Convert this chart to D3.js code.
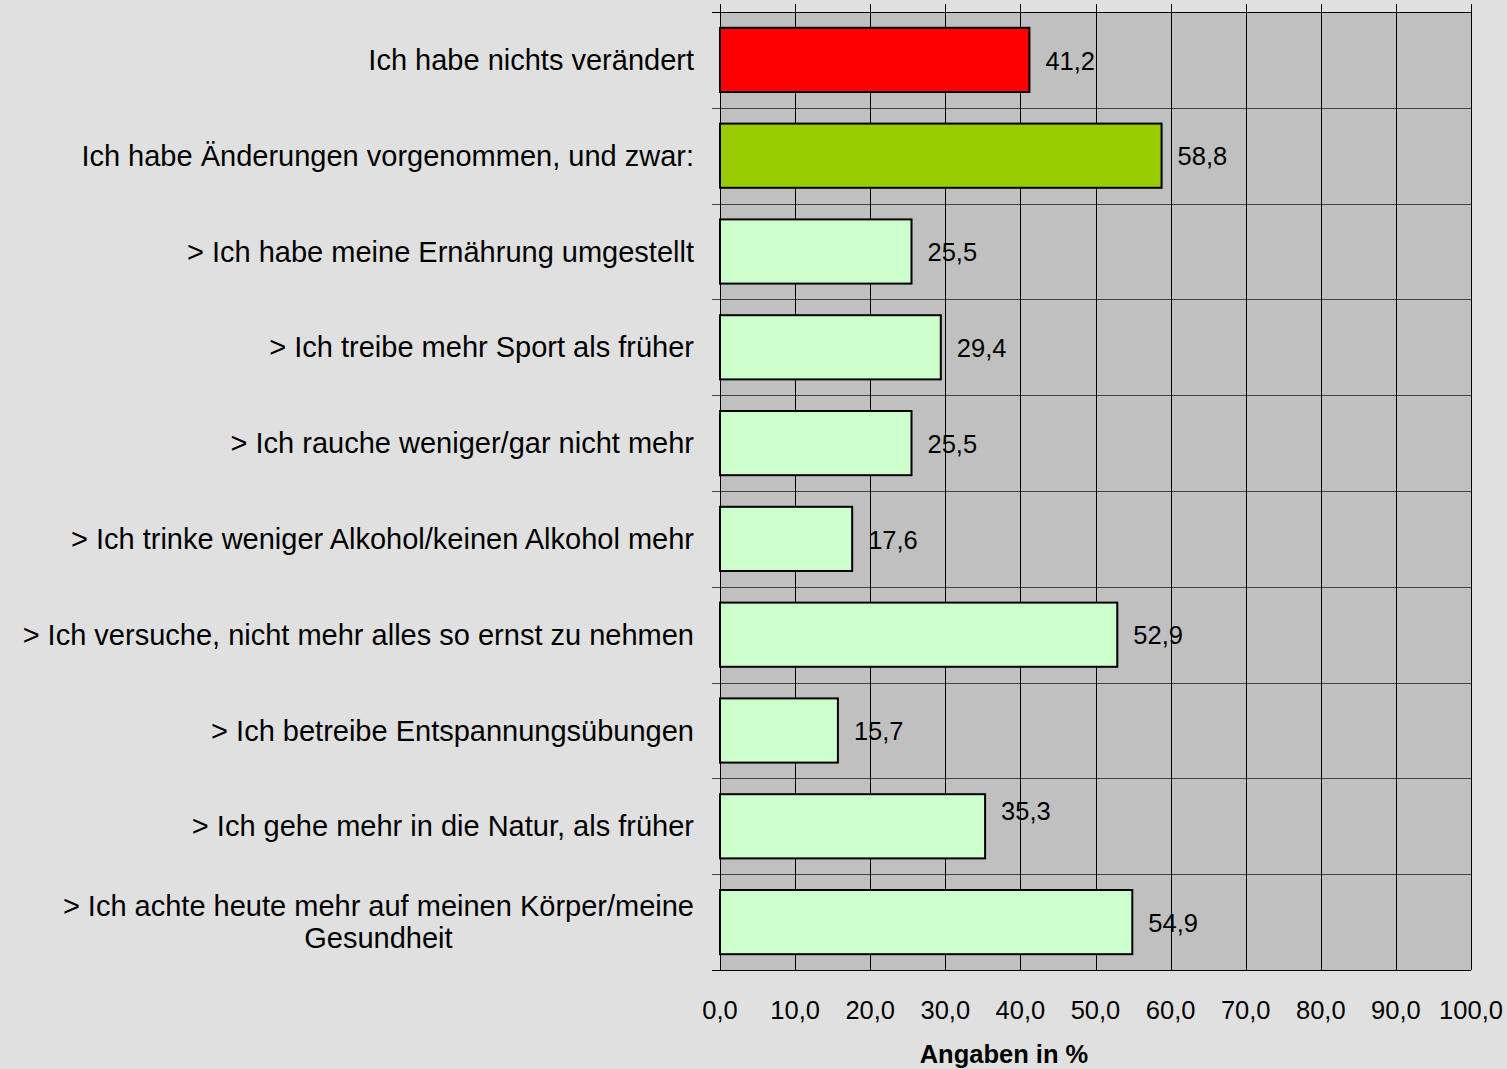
<!DOCTYPE html>
<html>
<head>
<meta charset="utf-8">
<title>Angaben in %</title>
<script src="https://cdnjs.cloudflare.com/ajax/libs/d3/7.8.5/d3.min.js"></script>
<style>
body { margin: 0; background: #e0e0e0; }
svg { display: block; font-family: "Liberation Sans", Arial, sans-serif; }
.cat { font-size: 29px; fill: #000; }
.val { font-size: 25.5px; fill: #000; }
.tick-label { font-size: 25.5px; fill: #000; }
</style>
</head>
<body>
<svg id="chart" width="1507" height="1069"></svg>
<script>
var categories = [
  ["Ich habe nichts verändert"],
  ["Ich habe Änderungen vorgenommen, und zwar:"],
  ["> Ich habe meine Ernährung umgestellt"],
  ["> Ich treibe mehr Sport als früher"],
  ["> Ich rauche weniger/gar nicht mehr"],
  ["> Ich trinke weniger Alkohol/keinen Alkohol mehr"],
  ["> Ich versuche, nicht mehr alles so ernst zu nehmen"],
  ["> Ich betreibe Entspannungsübungen"],
  ["> Ich gehe mehr in die Natur, als früher"],
  ["> Ich achte heute mehr auf meinen Körper/meine", "Gesundheit"]
];
var values = [41.2, 58.8, 25.5, 29.4, 25.5, 17.6, 52.9, 15.7, 35.3, 54.9];
var barColors = ["#ff0000", "#99cc00", "#ccffcc", "#ccffcc", "#ccffcc",
                 "#ccffcc", "#ccffcc", "#ccffcc", "#ccffcc", "#ccffcc"];
var xTicks = [0, 10, 20, 30, 40, 50, 60, 70, 80, 90, 100];
var axisTitle = "Angaben in %";

var svg = d3.select("#chart");
var plotLeft = 720, plotRight = 1471, plotTop = 12, plotBottom = 970;
var fmt = function(v) { return d3.format(".1f")(v).replace(".", ","); };

var x = d3.scaleLinear().domain([0, 100]).range([plotLeft, plotRight]);
var y = d3.scaleBand()
  .domain(d3.range(categories.length))
  .range([plotTop, plotBottom])
  .paddingInner(0.33)
  .paddingOuter(0.165);
var step = y.step();

// plot area
svg.append("rect")
  .attr("x", plotLeft).attr("y", plotTop)
  .attr("width", plotRight - plotLeft).attr("height", plotBottom - plotTop)
  .attr("fill", "#c0c0c0");

// horizontal band separators + y ticks
var seps = d3.range(categories.length + 1).map(i => plotTop + i * step);
svg.selectAll(".hsep").data(seps).enter().append("line")
  .attr("x1", plotLeft - 8).attr("x2", plotRight)
  .attr("y1", d => Math.round(d) + 0.5).attr("y2", d => Math.round(d) + 0.5)
  .attr("stroke", (d, i) => (i === 0 || i === seps.length - 1) ? "#000" : "#444")
  .attr("stroke-width", 1);

// vertical gridlines + small ticks above
svg.selectAll(".vgrid").data(xTicks).enter().append("line")
  .attr("x1", d => Math.round(x(d)) + 0.5).attr("x2", d => Math.round(x(d)) + 0.5)
  .attr("y1", plotTop - 8).attr("y2", plotBottom)
  .attr("stroke", "#000")
  .attr("stroke-width", 1);

// bars
svg.selectAll(".bar").data(values).enter().append("rect")
  .attr("x", x(0))
  .attr("y", (d, i) => y(i))
  .attr("width", d => x(d) - x(0))
  .attr("height", y.bandwidth())
  .attr("fill", (d, i) => barColors[i])
  .attr("stroke", "#000")
  .attr("stroke-width", 2);

// value labels
svg.selectAll(".val").data(values).enter().append("text")
  .attr("class", "val")
  .attr("x", d => x(d) + 16)
  .attr("y", (d, i) => y(i) + y.bandwidth() / 2 + (i === 8 ? -16 : 0))
  .attr("dy", "0.38em")
  .text(d => fmt(d));

// category labels
categories.forEach(function(lines, i) {
  var cy = y(i) + y.bandwidth() / 2;
  var lh = 32;
  var t = svg.append("text")
    .attr("class", "cat")
    .attr("text-anchor", lines.length > 1 ? "middle" : "end");
  if (lines.length === 1) {
    t.attr("x", 694).attr("y", cy).attr("dy", "0.35em").text(lines[0]);
  } else {
    // centre the block, right edge at 694
    var tmp = svg.append("text").attr("class", "cat").text(lines[0]);
    var w = tmp.node().getComputedTextLength();
    tmp.remove();
    var cx = 694 - w / 2;
    lines.forEach(function(s, j) {
      t.append("tspan")
        .attr("x", cx)
        .attr("y", cy + (j - (lines.length - 1) / 2) * lh)
        .attr("dy", "0.35em")
        .text(s);
    });
  }
});

// x tick labels
svg.selectAll(".tick-label").data(xTicks).enter().append("text")
  .attr("class", "tick-label")
  .attr("x", d => x(d))
  .attr("y", 1019)
  .attr("text-anchor", "middle")
  .text(d => fmt(d));

svg.append("text")
  .attr("x", 1004).attr("y", 1063)
  .attr("text-anchor", "middle")
  .attr("font-size", 25.5).attr("font-weight", "bold")
  .text(axisTitle);
</script>
</body>
</html>
